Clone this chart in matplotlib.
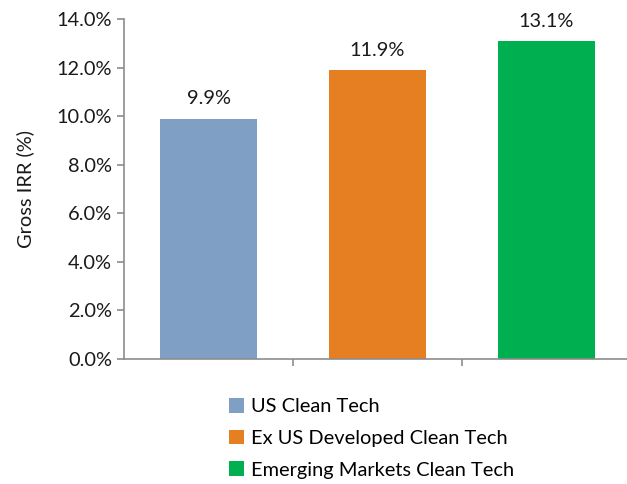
import matplotlib
matplotlib.use("Agg")
import matplotlib.pyplot as plt
from matplotlib.patches import Patch
import numpy as np

categories = ["US Clean Tech", "Ex US Developed Clean Tech", "Emerging Markets Clean Tech"]
values = [9.9, 11.9, 13.1]
colors = ["#7FA0C4", "#E67E22", "#00B050"]
yticks = [0, 2, 4, 6, 8, 10, 12, 14]

plt.rcParams['font.family'] = ['Lato', 'DejaVu Sans']
FS = 14.4

fig = plt.figure(figsize=(6.27, 4.84), dpi=100)
ax = fig.add_axes([124/627, 1 - 359/484, 507/627, 340/484])

x = np.arange(len(categories))
bars = ax.bar(x, values, width=0.57, color=colors)
for xi, v in zip(x, values):
    ax.annotate(f"{v:.1f}%", (xi, v), xytext=(0, 8), textcoords="offset points",
                ha="center", va="bottom", fontsize=FS, color="#1a1a1a")

ax.set_xlim(-0.5, 2.5)
ax.set_ylim(0, 14)
ax.set_yticks(yticks)
ax.set_yticklabels([f"{t:.1f}%" for t in yticks], fontsize=FS, color="#1a1a1a")
ax.set_xticks([0.5, 1.5])
ax.set_xticklabels([])
ax.set_ylabel("Gross IRR (%)", fontsize=FS, color="#1a1a1a", labelpad=16)

for s in ["top", "right"]:
    ax.spines[s].set_visible(False)
for s in ["left", "bottom"]:
    ax.spines[s].set_color("#8c8c8c")
    ax.spines[s].set_linewidth(1.2)
ax.tick_params(axis="both", direction="out", length=5, width=1.2, color="#8c8c8c")

handles = [Patch(facecolor=c, edgecolor="none") for c in colors]
fig.legend(handles, categories, loc="upper left", bbox_to_anchor=(229/627, 1 - 398/484),
           frameon=False, fontsize=FS, handlelength=0.75, handleheight=0.75,
           handletextpad=0.35, labelspacing=0.72, borderaxespad=0, borderpad=0)

fig.savefig("out.png", dpi=100)
